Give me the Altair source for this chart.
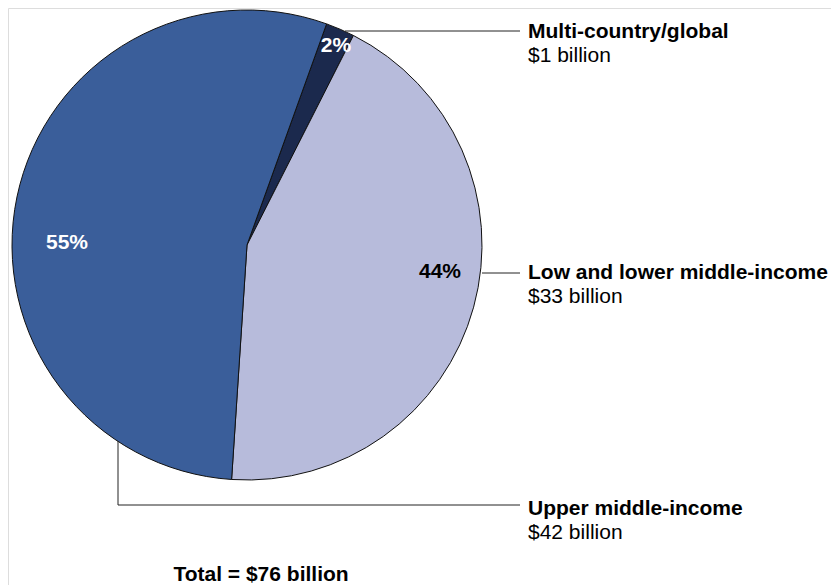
import math
import altair as alt
import pandas as pd

categories = ["Multi-country/global", "Low and lower middle-income", "Upper middle-income"]
percents = [2, 44, 55]
billions = [1, 33, 42]
order = [0, 1, 2]
colors = ["#1B294D", "#B7BBDB", "#3A5E9A"]
total_label = "Total = $76 billion"

df = pd.DataFrame({
    "category": categories,
    "pct": percents,
    "billions": billions,
    "order": order,
})
df["pct_label"] = df["pct"].astype(str) + "%"
df["amount_label"] = "$" + df["billions"].astype(str) + " billion"

FONT = "Liberation Sans"
FS = 21
CX, CY, R = 239, 237, 235
theta0 = math.radians(19.8)

base = alt.Chart(df)

pie = base.mark_arc(stroke="#111111", strokeWidth=1).encode(
    theta=alt.Theta("pct:Q", stack=True, scale=alt.Scale(range=[theta0, theta0 + 2 * math.pi])),
    order=alt.Order("order:Q"),
    color=alt.Color("category:N", scale=alt.Scale(domain=categories, range=colors), legend=None),
    x=alt.value(CX), y=alt.value(CY), radius=alt.value(R),
)

def pct_text(cat, x, y, color):
    return base.transform_filter(alt.datum.category == cat).mark_text(
        font=FONT, fontSize=FS, fontWeight="bold", align="center", baseline="middle", color=color
    ).encode(text="pct_label:N", x=alt.value(x), y=alt.value(y))

def name_text(cat, y1, y2):
    a = base.transform_filter(alt.datum.category == cat).mark_text(
        font=FONT, fontSize=FS, fontWeight="bold", align="left", baseline="alphabetic", color="#000000"
    ).encode(text="category:N", x=alt.value(520), y=alt.value(y1))
    b = base.transform_filter(alt.datum.category == cat).mark_text(
        font=FONT, fontSize=FS, align="left", baseline="alphabetic", color="#000000"
    ).encode(text="amount_label:N", x=alt.value(520), y=alt.value(y2))
    return a + b

def rule(x1, y1, x2, y2):
    return alt.Chart(pd.DataFrame({"a": [0]})).mark_rule(color="#222222", strokeWidth=1).encode(
        x=alt.value(x1), y=alt.value(y1), x2=alt.value(x2), y2=alt.value(y2)
    )

total = alt.Chart(pd.DataFrame({"t": [total_label]})).mark_text(
    font=FONT, fontSize=FS, fontWeight="bold", align="center", baseline="alphabetic", color="#000000"
).encode(text="t:N", x=alt.value(253), y=alt.value(573))

chart = alt.layer(
    pie,
    rule(337, 23, 512, 23),
    rule(474, 265, 512, 265),
    rule(110, 433, 110, 497),
    rule(110, 497, 512, 497),
    pct_text("Multi-country/global", 328, 38, "#FFFFFF"),
    pct_text("Upper middle-income", 59, 235, "#FFFFFF"),
    pct_text("Low and lower middle-income", 432, 264, "#000000"),
    name_text("Multi-country/global", 30, 54),
    name_text("Low and lower middle-income", 271, 295),
    name_text("Upper middle-income", 507, 531),
    total,
).properties(
    width=823, height=577, padding=0, autosize=alt.AutoSizeParams(type="none")
).configure_view(stroke=None).configure(background="#FFFFFF")

chart.save("out.html", embed_options={"renderer": "svg", "actions": False})
